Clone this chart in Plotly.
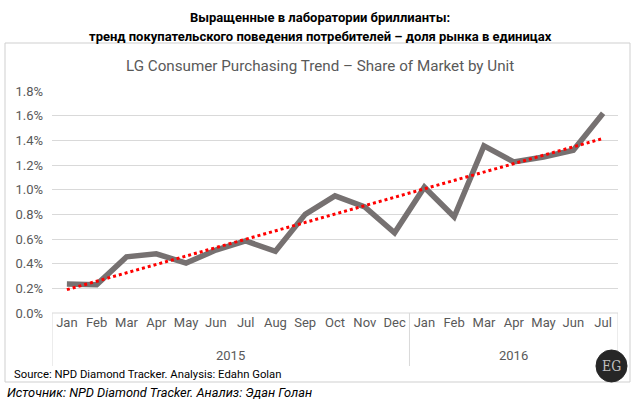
import numpy as np
import plotly.graph_objects as go

months = ["Jan","Feb","Mar","Apr","May","Jun","Jul","Aug","Sep","Oct","Nov","Dec",
          "Jan","Feb","Mar","Apr","May","Jun","Jul"]
years = ["2015", "2016"]
year_counts = [12, 7]
share = [0.235, 0.23, 0.455, 0.48, 0.405, 0.51, 0.585, 0.50, 0.80, 0.95, 0.86, 0.65,
         1.02, 0.78, 1.355, 1.225, 1.265, 1.32, 1.62]
y_ticks = [0.0, 0.2, 0.4, 0.6, 0.8, 1.0, 1.2, 1.4, 1.6, 1.8]

xi = np.arange(len(months))
coef = np.polyfit(xi, share, 1)
trend = np.polyval(coef, xi)

FONT = "Liberation Sans Narrow, Roboto, sans-serif"
GREY = "#595959"

fig = go.Figure()
fig.add_trace(go.Scatter(x=xi, y=share, mode="lines",
                         line=dict(color="#767171", width=5.5), hoverinfo="skip"))
fig.add_trace(go.Scatter(x=xi, y=trend, mode="lines",
                         line=dict(color="#ff0000", width=3, dash="dot"), hoverinfo="skip"))

fig.update_layout(
    width=635, height=405, showlegend=False,
    margin=dict(l=52, r=17, t=91, b=92, autoexpand=False),
    paper_bgcolor="white", plot_bgcolor="white",
    font=dict(family=FONT, color=GREY, size=12),
    xaxis=dict(range=[-0.5, len(months) - 0.5], tickmode="array", tickvals=list(xi),
               ticktext=months, showgrid=False, zeroline=False, ticks="",
               tickfont=dict(size=13, color=GREY), showline=False, automargin=False),
    yaxis=dict(range=[0, 1.8], tickmode="array", tickvals=y_ticks,
               ticktext=[f"{v:.1f}%" for v in y_ticks], gridcolor="#d9d9d9",
               gridwidth=1, zeroline=False, showline=False, automargin=False,
               tickfont=dict(size=13, color=GREY), ticklabelstandoff=8),
)

def px_x(p):
    return (p - 52) / 566.0

def px_y(p):
    return (313 - p) / 222.0

shapes = []
# outer chart frame
shapes.append(dict(type="rect", xref="paper", yref="paper", x0=px_x(5), x1=px_x(630),
                   y0=px_y(382), y1=px_y(43), line=dict(color="#cfcfcf", width=1)))
# axis line
shapes.append(dict(type="line", xref="x", yref="paper", x0=-0.5, x1=len(months) - 0.5,
                   y0=0, y1=0, line=dict(color="#d9d9d9", width=1)))
# year separators
bounds = [-0.5]
for c in year_counts:
    bounds.append(bounds[-1] + c)
for b in bounds:
    shapes.append(dict(type="line", xref="x", yref="paper", x0=b, x1=b,
                       y0=0, y1=px_y(366), line=dict(color="#d9d9d9", width=1)))
# EG logo circle
shapes.append(dict(type="circle", xref="paper", yref="paper", x0=px_x(596), x1=px_x(627),
                   y0=px_y(382), y1=px_y(350), fillcolor="#262626",
                   line=dict(color="#262626", width=1), layer="above"))
fig.update_layout(shapes=shapes)

def note(x, y, text, size, color=GREY, xanchor="center", family=None, xref="paper"):
    f = dict(size=size, color=color)
    if family:
        f["family"] = family
    return dict(x=x, y=px_y(y), xref=xref, yref="paper", text=text, showarrow=False,
                font=f, xanchor=xanchor, yanchor="middle")

ann = []
for i, yname in enumerate(years):
    ann.append(note((bounds[i] + bounds[i + 1]) / 2, 355, yname, 13, xref="x"))
ann.append(note(px_x(320), 66, "LG Consumer Purchasing Trend – Share of Market by Unit", 15.2))
ann.append(note(px_x(320), 17, "<b>Выращенные в лаборатории бриллианты:</b>", 13, "black"))
ann.append(note(px_x(320), 36,
                "<b>тренд покупательского поведения потребителей – доля рынка в единицах</b>",
                13, "black"))
ann.append(note(px_x(12), 374, "Source: NPD Diamond Tracker. Analysis: Edahn Golan",
                11.3, "black", "left"))
ann.append(note(px_x(5), 392, "<i>Источник: NPD Diamond Tracker. Анализ: Эдан Голан</i>",
                12.8, "black", "left"))
ann.append(note(px_x(611.5), 366, "EG", 14, "#bfbfbf",
                family="DejaVu Serif Condensed, serif"))
fig.update_layout(annotations=ann)

fig.write_html("out.html", config={"displayModeBar": False},
               post_script="document.body.style.margin='0';")
